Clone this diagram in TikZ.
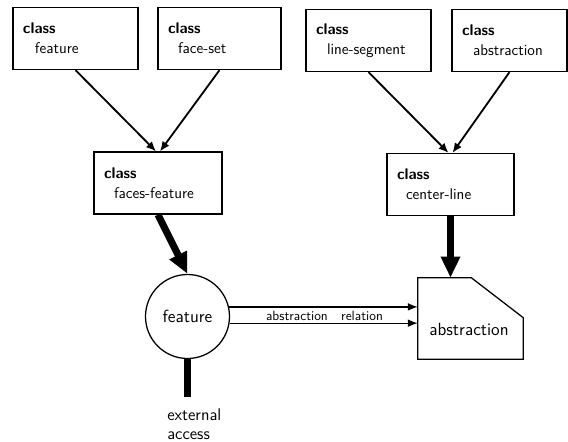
\documentclass[tikz,border=0pt]{standalone}
\usetikzlibrary{arrows.meta,calc}
\newlength\pxu \setlength\pxu{0.025cm}
\tikzset{
  classbox/.style={draw, line width=0.9pt, minimum height=62\pxu, align=left,
    inner xsep=10\pxu, inner ysep=0pt, font=\sffamily\fontsize{11}{14}\selectfont},
  objtext/.style={font=\sffamily\fontsize{12.5}{14}\selectfont},
  inherit/.style={line width=1.3pt, -{Latex[length=7pt,width=6pt]}},
  compose/.style={line width=5pt, -{Triangle[length=15pt,width=13pt]}},
  relation/.style={line width=0.9pt, -{Latex[length=7pt,width=5.5pt]}},
}
\begin{document}
\begin{tikzpicture}[x=0.025cm, y={(0,-0.025cm)}]
  \useasboundingbox (0,0) rectangle (568,442);
  % class boxes
  \node[classbox, text width=105\pxu] (feature) at (75.5,38.5) {\textbf{class}\\\hspace*{12\pxu}feature};
  \node[classbox, text width=103\pxu] (faceset) at (219.5,38.5) {\textbf{class}\\\hspace*{10\pxu}face-set};
  \node[classbox, text width=105\pxu] (lineseg) at (368.5,40.5) {\textbf{class}\\\hspace*{11\pxu}line-segment};
  \node[classbox, text width=95\pxu] (abstr) at (509.5,40.5) {\textbf{class}\\\hspace*{11\pxu}abstraction};
  \node[classbox, text width=108\pxu] (facesfeat) at (158,183) {\textbf{class}\\\hspace*{10\pxu}faces-feature};
  \node[classbox, text width=107\pxu] (centerline) at (450.5,184.5) {\textbf{class}\\\hspace*{9\pxu}center-line};
  % objects
  \node[draw, circle, line width=0.9pt, minimum size=84\pxu, inner sep=0pt, objtext] (featobj) at (187.5,316.5) {feature};
  \node[minimum width=105\pxu, minimum height=81\pxu, inner sep=0pt] (abstrobj) at (470.5,318.5) {};
  \draw[line width=0.9pt] (abstrobj.north west) -- ($(abstrobj.north east)+(-52,0)$)
    -- ($(abstrobj.north east)+(0,40)$) -- (abstrobj.south east) -- (abstrobj.south west) -- cycle;
  \node[objtext] (abstrlabel) at (469,329) {abstraction};
  % inheritance
  \draw[inherit] (feature.south) -- ([xshift=-2\pxu]facesfeat.north);
  \draw[inherit] (faceset.south) -- ([xshift=2\pxu]facesfeat.north);
  \draw[inherit] (lineseg.south) -- ([xshift=-2\pxu]centerline.north);
  \draw[inherit] (abstr.south) -- ([xshift=2\pxu]centerline.north);
  % instances
  \draw[compose] (facesfeat.south) -- (featobj.north);
  \draw[compose] (centerline.south) -- (centerline.south |- abstrobj.north);
  \coordinate (extend) at (187.5,397);
  \draw[line width=5pt] (featobj.south) -- (extend);
  \node[font=\sffamily\fontsize{12}{13}\selectfont, align=left, anchor=north west, inner sep=0pt] (access) at (167,409) {external\\access};
  % relation
  \draw[relation] (featobj.13) -- (featobj.13 -| abstrobj.west);
  \draw[relation] (featobj.-9) -- (featobj.-9 -| abstrobj.west);
  \node[font=\sffamily\fontsize{9.5}{11}\selectfont] (rellabel) at (324.5,315.5) {abstraction\quad relation};
\end{tikzpicture}
\end{document}
